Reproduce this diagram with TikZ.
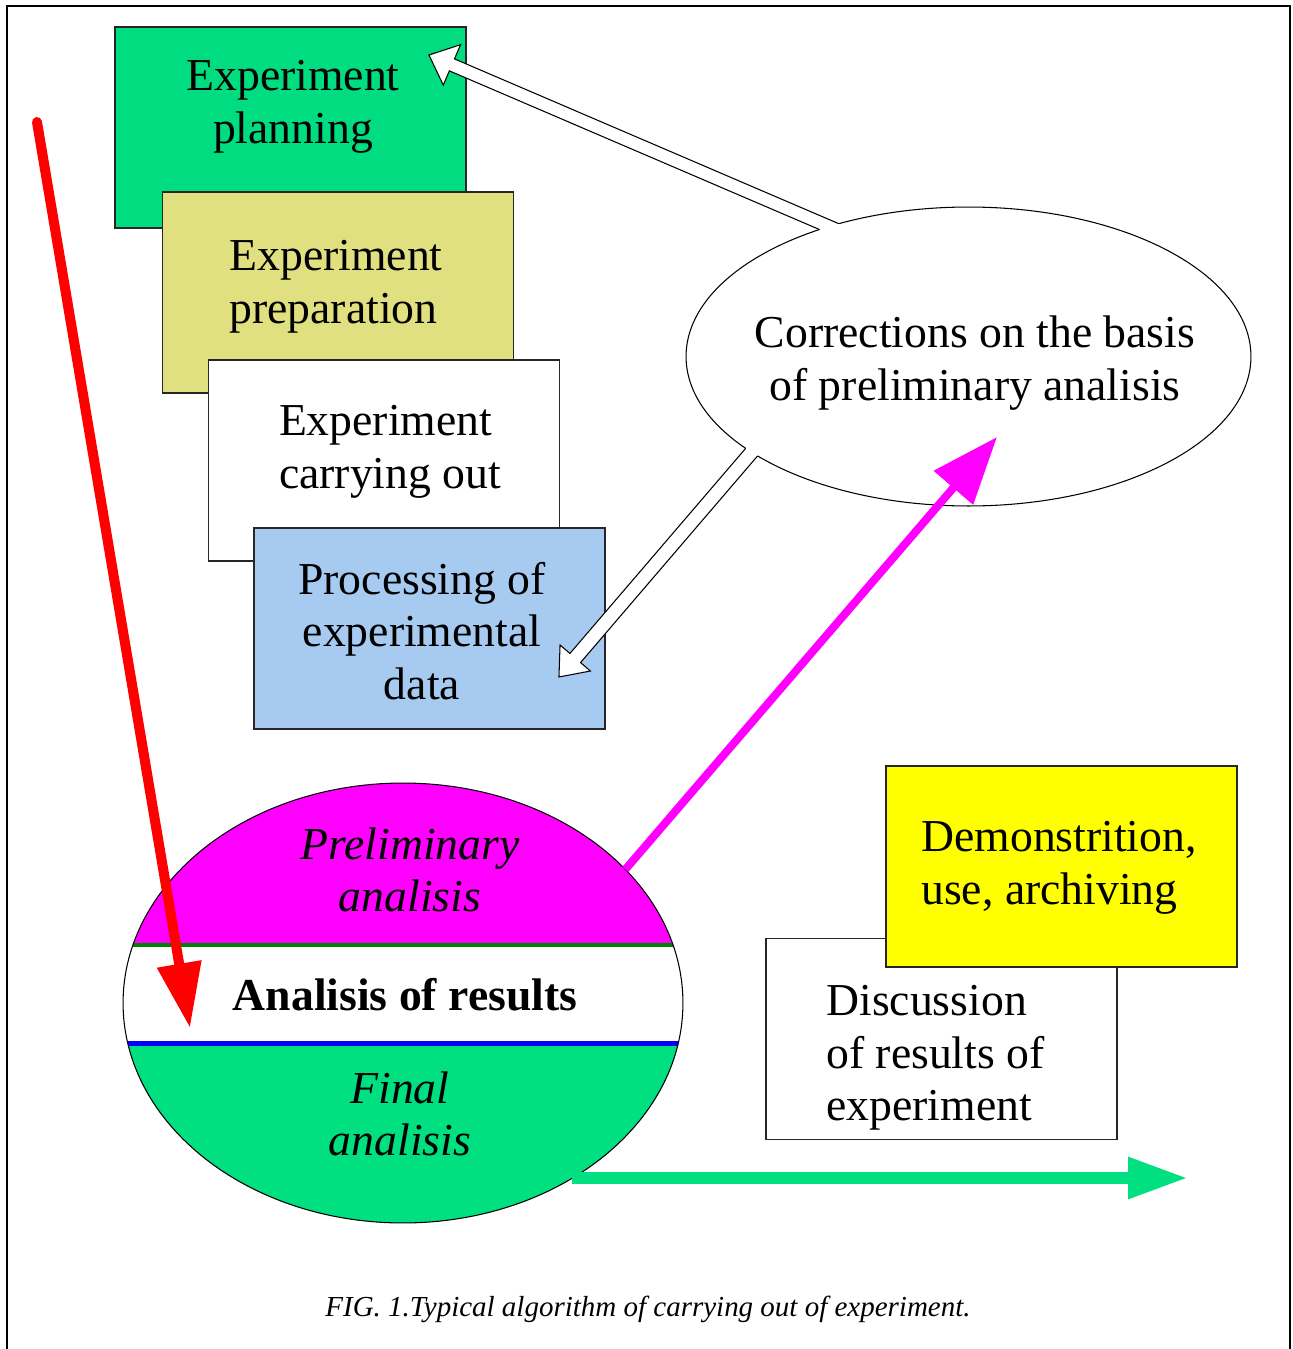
\documentclass[tikz,border=0pt]{standalone}
\usepackage{fontspec}
\setmainfont{Liberation Serif}
\usetikzlibrary{shapes.geometric,arrows.meta,calc}
\definecolor{boxgreen}{HTML}{00DD80}
\definecolor{khaki}{HTML}{E0E080}
\definecolor{lblue}{HTML}{A6CAF0}
\definecolor{mag}{HTML}{FF00FF}
\definecolor{yel}{HTML}{FFFF00}
\definecolor{dkgreen}{HTML}{008000}
\definecolor{arrgreen}{HTML}{00E080}
\newcommand{\hafill}[5]{%
  \coordinate (hb) at ($(#2)!#5!(#1)$);
  \path[fill=white] ($(#1)!#3!90:(#2)$) -- ($(hb)!#3!90:(#2)$) -- ($(hb)!#4!90:(#2)$) -- (#2)
    -- ($(hb)!#4!-90:(#2)$) -- ($(hb)!#3!-90:(#2)$) -- ($(#1)!#3!-90:(#2)$) -- cycle;}
\newcommand{\haline}[5]{%
  \coordinate (hb) at ($(#2)!#5!(#1)$);
  \draw[hollow] ($(#1)!#3!90:(#2)$) -- ($(hb)!#3!90:(#2)$) -- ($(hb)!#4!90:(#2)$) -- (#2)
    -- ($(hb)!#4!-90:(#2)$) -- ($(hb)!#3!-90:(#2)$) -- ($(#1)!#3!-90:(#2)$);}
\begin{document}
\begin{tikzpicture}[x=0.02cm,y=-0.02cm,
  box/.style={draw=black!85, line width=0.9pt, rectangle, inner sep=0pt, outer sep=0pt,
              minimum width=7.02cm, minimum height=4.02cm},
  txt/.style={font=\fontsize{26}{30}\selectfont, align=center, inner sep=0pt},
  itxt/.style={font=\fontsize{26}{30}\selectfont\itshape, align=center, inner sep=0pt},
  oval/.style={ellipse, draw=black, line width=0.6pt, inner sep=0pt, outer sep=0pt, fill=white},
  hollow/.style={draw=black, line width=0.6pt, line join=miter},
]
\useasboundingbox (0,0) rectangle (1293,1349);
\draw[line width=1.2pt] (7,1360) -- (7,6) -- (1290,6) -- (1290,1360);

% stacked boxes
\node[box, fill=boxgreen] (plan) at (290.5,127.5) {};
\node[txt] (plant) at (293,107) {Experiment\\planning};
\node[box, fill=khaki] (prep) at (338,292.5) {};
\node[txt, align=left] (prept) at (336,287) {Experiment\\preparation};
\node[box, fill=white] (carry) at (384,460.5) {};
\node[txt, align=left] (carryt) at (390,452) {Experiment\\carrying out};
\node[box, fill=lblue] (proc) at (429.5,628.5) {};
\node[txt] (proct) at (422,631) {Processing of\\experimental\\data};

% corrections ellipse
\node[oval, minimum width=11.3cm, minimum height=5.98cm] (corr) at (968.5,356.5) {};
\node[txt] (corrt) at (975,363) {Corrections on the basis\\of preliminary analisis};

% hollow arrows
\coordinate (a1tail) at ($(corr.center)+(-117.5,-120.5)$);
\coordinate (a1tip) at ($(plan.north east)+(-37,28)$);
\coordinate (a2tail) at ($(corr.center)+(-200.5,76.5)$);
\coordinate (a2tip) at ($(proc.south east)+(-46,-52)$);
\hafill{a1tail}{a1tip}{0.13cm}{0.44cm}{0.5cm}
\hafill{a2tail}{a2tip}{0.14cm}{0.4cm}{0.5cm}
\begin{scope}[even odd rule]
  \clip (0,0) rectangle (1293,1349) (corr.center) ellipse [x radius=5.65cm, y radius=2.99cm];
  \haline{a1tail}{a1tip}{0.13cm}{0.44cm}{0.5cm}
  \haline{a2tail}{a2tip}{0.14cm}{0.4cm}{0.5cm}
\end{scope}

% right boxes
\node[box, fill=white] (disc) at (941.5,1039) {};
\node[txt, align=left, anchor=west] (disct) at (826,1058) {Discussion\\of results of\\experiment};
\node[box, fill=yel] (demo) at (1061.5,866.5) {};
\node[txt, align=left, anchor=west] (demot) at (921,868) {Demonstrition,\\use, archiving};

% analysis ellipse
\node[oval, minimum width=11.2cm, minimum height=8.8cm, path picture={
    \fill[mag] (path picture bounding box.north west) rectangle ([yshift=-3.24cm]path picture bounding box.north east);
    \fill[arrgreen] ([yshift=-5.2cm]path picture bounding box.north west) rectangle (path picture bounding box.south east);
    \draw[dkgreen, line width=0.08cm] ([yshift=-3.24cm]path picture bounding box.north west) -- ([yshift=-3.24cm]path picture bounding box.north east);
    \draw[blue, line width=0.1cm] ([yshift=-5.2cm]path picture bounding box.north west) -- ([yshift=-5.2cm]path picture bounding box.north east);
  }] (ana) at (403,1003) {};
\node[itxt] (prelt) at (410,870) {Preliminary\\analisis};
\node[txt, font=\fontsize{26}{30}\selectfont\bfseries] (anat) at (405,995) {Analisis of results};
\node[itxt] (finalt) at (400,1114) {Final\\analisis};

% coloured arrows
\coordinate (gend) at (1188,1178);
\draw[arrgreen, line width=0.24cm, -{Triangle[length=1.2cm,width=0.78cm]}] (ana.-46.7 |- gend) -- (gend);
\coordinate (magtip) at ($(corr.center)+(28.5,80.5)$);
\draw[mag, line width=0.16cm, -{Triangle[length=1.34cm,width=1.0cm]}] (ana.31) -- (magtip);
\coordinate (redstart) at (37,122);
\coordinate (redtip) at ($(ana.center)+(-213,25)$);
\draw[red, line width=0.2cm, line cap=round, -{Triangle[length=1.3cm,width=0.85cm]}] (redstart) -- (redtip);

% caption
\node[font=\fontsize{16.5}{20}\selectfont\itshape, inner sep=0pt] (cap) at (648,1309) {FIG. 1.Typical algorithm of carrying out of experiment.};
\end{tikzpicture}
\end{document}
